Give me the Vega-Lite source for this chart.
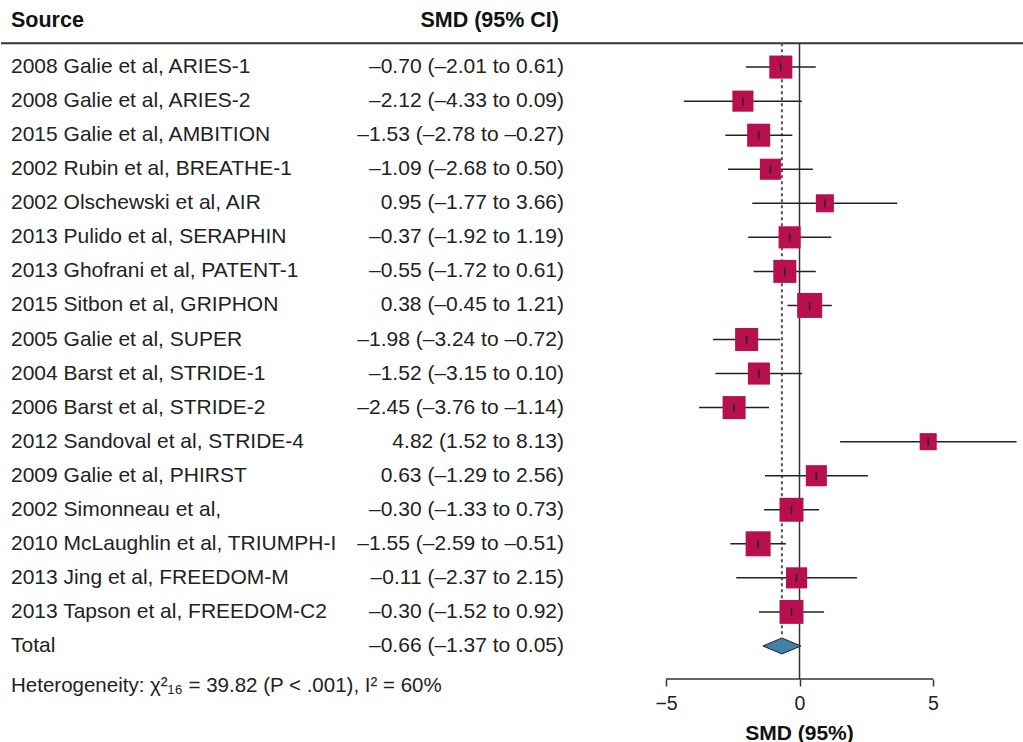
{
  "$schema": "https://vega.github.io/schema/vega-lite/v6.json",
  "padding": 0,
  "spacing": 0,
  "bounds": "flush",
  "background": "white",
  "config": {"view": {"stroke": null}, "font": "Liberation Sans"},
  "datasets": {
    "studies": [
      {"row": 1, "source": "2008 Galie et al, ARIES-1", "label": "–0.70 (–2.01 to 0.61)", "est": -0.70, "lo": -2.01, "hi": 0.61, "weight": 6.2},
      {"row": 2, "source": "2008 Galie et al, ARIES-2", "label": "–2.12 (–4.33 to 0.09)", "est": -2.12, "lo": -4.33, "hi": 0.09, "weight": 5.2},
      {"row": 3, "source": "2015 Galie et al, AMBITION", "label": "–1.53 (–2.78 to –0.27)", "est": -1.53, "lo": -2.78, "hi": -0.27, "weight": 6.2},
      {"row": 4, "source": "2002 Rubin et al, BREATHE-1", "label": "–1.09 (–2.68 to 0.50)", "est": -1.09, "lo": -2.68, "hi": 0.50, "weight": 5.2},
      {"row": 5, "source": "2002 Olschewski et al, AIR", "label": "0.95 (–1.77 to 3.66)", "est": 0.95, "lo": -1.77, "hi": 3.66, "weight": 3.8},
      {"row": 6, "source": "2013 Pulido et al, SERAPHIN", "label": "–0.37 (–1.92 to 1.19)", "est": -0.37, "lo": -1.92, "hi": 1.19, "weight": 5.7},
      {"row": 7, "source": "2013 Ghofrani et al, PATENT-1", "label": "–0.55 (–1.72 to 0.61)", "est": -0.55, "lo": -1.72, "hi": 0.61, "weight": 6.2},
      {"row": 8, "source": "2015 Sitbon et al, GRIPHON", "label": "0.38 (–0.45 to 1.21)", "est": 0.38, "lo": -0.45, "hi": 1.21, "weight": 7.3},
      {"row": 9, "source": "2005 Galie et al, SUPER", "label": "–1.98 (–3.24 to –0.72)", "est": -1.98, "lo": -3.24, "hi": -0.72, "weight": 6.2},
      {"row": 10, "source": "2004 Barst et al, STRIDE-1", "label": "–1.52 (–3.15 to 0.10)", "est": -1.52, "lo": -3.15, "hi": 0.10, "weight": 5.7},
      {"row": 11, "source": "2006 Barst et al, STRIDE-2", "label": "–2.45 (–3.76 to –1.14)", "est": -2.45, "lo": -3.76, "hi": -1.14, "weight": 6.2},
      {"row": 12, "source": "2012 Sandoval et al, STRIDE-4", "label": "4.82 (1.52 to 8.13)", "est": 4.82, "lo": 1.52, "hi": 8.13, "weight": 3.4},
      {"row": 13, "source": "2009 Galie et al, PHIRST", "label": "0.63 (–1.29 to 2.56)", "est": 0.63, "lo": -1.29, "hi": 2.56, "weight": 5.2},
      {"row": 14, "source": "2002 Simonneau et al,", "label": "–0.30 (–1.33 to 0.73)", "est": -0.30, "lo": -1.33, "hi": 0.73, "weight": 6.7},
      {"row": 15, "source": "2010 McLaughlin et al, TRIUMPH-I", "label": "–1.55 (–2.59 to –0.51)", "est": -1.55, "lo": -2.59, "hi": -0.51, "weight": 7.3},
      {"row": 16, "source": "2013 Jing et al, FREEDOM-M", "label": "–0.11 (–2.37 to 2.15)", "est": -0.11, "lo": -2.37, "hi": 2.15, "weight": 5.2},
      {"row": 17, "source": "2013 Tapson et al, FREEDOM-C2", "label": "–0.30 (–1.52 to 0.92)", "est": -0.30, "lo": -1.52, "hi": 0.92, "weight": 6.7}
    ],
    "total": [
      {"row": 18, "source": "Total", "label": "–0.66 (–1.37 to 0.05)", "est": -0.66, "lo": -1.37, "hi": 0.05}
    ],
    "headers": [
      {"row": -0.35, "source": "Source", "label": "SMD (95% CI)"}
    ],
    "notes": [
      {"row": 19.17, "text": "Heterogeneity: χ²₁₆ = 39.82 (P < .001), I² = 60%"}
    ]
  },
  "hconcat": [
    {
      "width": 573,
      "height": 679,
      "layer": [
        {
          "data": {"name": "headers"},
          "mark": {"type": "rule", "color": "#333", "strokeWidth": 2},
          "encoding": {
            "y": {"datum": 0.3, "type": "quantitative", "scale": {"domain": [-0.97, 18.97], "reverse": true, "nice": false, "zero": false}, "axis": null}
          }
        },
        {
          "data": {"name": "headers"},
          "mark": {"type": "text", "align": "left", "baseline": "middle", "fontSize": 21.5, "fontWeight": "bold", "color": "#111"},
          "encoding": {
            "x": {"datum": "Source", "type": "nominal", "scale": {"type": "point", "domain": ["Source", "SMD"], "padding": 0.0181}, "axis": null},
            "y": {"field": "row", "type": "quantitative"},
            "text": {"field": "source"}
          }
        },
        {
          "data": {"name": "headers"},
          "mark": {"type": "text", "align": "right", "baseline": "middle", "fontSize": 21.5, "fontWeight": "bold", "color": "#111", "dx": -5},
          "encoding": {
            "x": {"datum": "SMD", "type": "nominal"},
            "y": {"field": "row", "type": "quantitative"},
            "text": {"field": "label"}
          }
        },
        {
          "data": {"name": "studies"},
          "mark": {"type": "text", "align": "left", "baseline": "middle", "fontSize": 21, "color": "#222"},
          "encoding": {
            "x": {"datum": "Source", "type": "nominal"},
            "y": {"field": "row", "type": "quantitative"},
            "text": {"field": "source"}
          }
        },
        {
          "data": {"name": "studies"},
          "mark": {"type": "text", "align": "right", "baseline": "middle", "fontSize": 21, "color": "#222"},
          "encoding": {
            "x": {"datum": "SMD", "type": "nominal"},
            "y": {"field": "row", "type": "quantitative"},
            "text": {"field": "label"}
          }
        },
        {
          "data": {"name": "total"},
          "mark": {"type": "text", "align": "left", "baseline": "middle", "fontSize": 21, "color": "#222"},
          "encoding": {
            "x": {"datum": "Source", "type": "nominal"},
            "y": {"field": "row", "type": "quantitative"},
            "text": {"field": "source"}
          }
        },
        {
          "data": {"name": "total"},
          "mark": {"type": "text", "align": "right", "baseline": "middle", "fontSize": 21, "color": "#222"},
          "encoding": {
            "x": {"datum": "SMD", "type": "nominal"},
            "y": {"field": "row", "type": "quantitative"},
            "text": {"field": "label"}
          }
        },
        {
          "data": {"name": "notes"},
          "mark": {"type": "text", "align": "left", "baseline": "middle", "fontSize": 20.5, "color": "#222"},
          "encoding": {
            "x": {"datum": "Source", "type": "nominal"},
            "y": {"field": "row", "type": "quantitative"},
            "text": {"field": "text"}
          }
        }
      ]
    },
    {
      "width": 450,
      "height": 679,
      "layer": [
        {
          "data": {"name": "headers"},
          "mark": {"type": "rule", "color": "#333", "strokeWidth": 2},
          "encoding": {
            "y": {"datum": 0.3, "type": "quantitative", "scale": {"domain": [-0.97, 18.97], "reverse": true, "nice": false, "zero": false}, "axis": null}
          }
        },
        {
          "data": {"name": "headers"},
          "mark": {"type": "rule", "color": "#333", "strokeWidth": 1.5},
          "encoding": {
            "x": {"datum": 0, "type": "quantitative", "scale": {"domain": [-8.446, 8.408], "nice": false, "zero": false},
              "axis": {"values": [-5, 0, 5], "domain": false, "grid": false, "tickSize": 7, "tickWidth": 1.5, "tickColor": "#333", "labelFontSize": 19.5, "labelColor": "#222", "labelFont": "Liberation Sans", "labelPadding": 8, "title": "SMD (95%)", "titleFontSize": 21, "titleFontWeight": "bold", "titleColor": "#111", "titleFont": "Liberation Sans", "titlePadding": 10}},
            "y": {"datum": 0.3, "type": "quantitative"},
            "y2": {"datum": 18.97}
          }
        },
        {
          "data": {"name": "headers"},
          "mark": {"type": "rule", "color": "#333", "strokeWidth": 1.5},
          "encoding": {
            "x": {"datum": -5, "type": "quantitative"},
            "x2": {"datum": 5},
            "y": {"datum": 18.97, "type": "quantitative"}
          }
        },
        {
          "data": {"name": "total"},
          "mark": {"type": "rule", "color": "#555", "strokeWidth": 2, "strokeDash": [3, 3]},
          "encoding": {
            "x": {"field": "est", "type": "quantitative"},
            "y": {"datum": 0.3, "type": "quantitative"},
            "y2": {"datum": 17.72}
          }
        },
        {
          "data": {"name": "studies"},
          "mark": {"type": "rule", "color": "#222", "strokeWidth": 1.5},
          "encoding": {
            "x": {"field": "lo", "type": "quantitative"},
            "x2": {"field": "hi"},
            "y": {"field": "row", "type": "quantitative"}
          }
        },
        {
          "data": {"name": "studies"},
          "mark": {"type": "point", "shape": "square", "filled": true, "color": "#B8104F", "opacity": 1},
          "encoding": {
            "x": {"field": "est", "type": "quantitative"},
            "y": {"field": "row", "type": "quantitative"},
            "size": {"field": "weight", "type": "quantitative", "scale": {"domain": [0, 7.3], "range": [0, 625]}, "legend": null}
          }
        },
        {
          "data": {"name": "studies"},
          "mark": {"type": "rule", "color": "#222", "strokeWidth": 1.5, "yOffset": -4, "y2Offset": 4},
          "encoding": {
            "x": {"field": "est", "type": "quantitative"},
            "y": {"field": "row", "type": "quantitative"},
            "y2": {"field": "row"}
          }
        },
        {
          "data": {"name": "total"},
          "mark": {"type": "point", "shape": "M-1,0L0,-0.42L1,0L0,0.42Z", "filled": true, "color": "#3F81A8", "stroke": "#222", "strokeWidth": 1, "opacity": 1, "size": 1444},
          "encoding": {
            "x": {"field": "est", "type": "quantitative"},
            "y": {"field": "row", "type": "quantitative"}
          }
        }
      ]
    }
  ]
}
